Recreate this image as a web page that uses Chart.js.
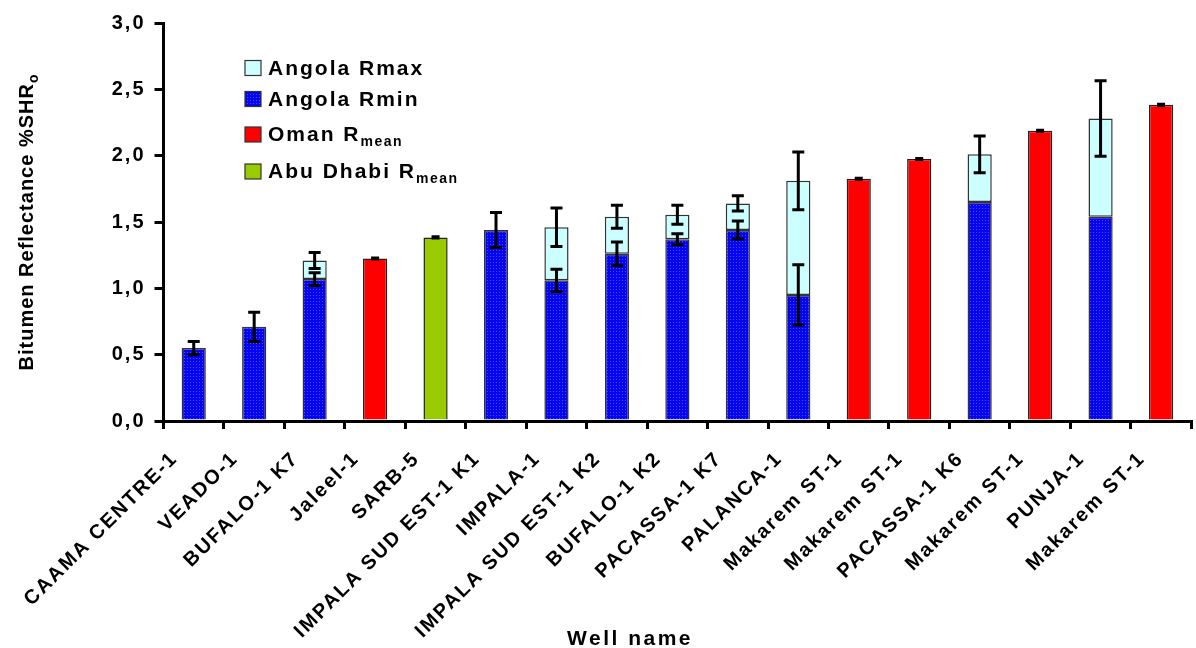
<!DOCTYPE html>
<html>
<head>
<meta charset="utf-8">
<script src="https://cdn.jsdelivr.net/npm/chart.js@4"></script>
<style>
  html, body { margin: 0; padding: 0; background: #fff; }
  #wrap { width: 1196px; height: 648px; position: relative; }
</style>
</head>
<body>
<div id="wrap"><canvas id="reflChart"></canvas></div>
<script>
const wells = ["CAAMA CENTRE-1", "VEADO-1", "BUFALO-1 K7", "Jaleel-1", "SARB-5",
  "IMPALA SUD EST-1 K1", "IMPALA-1", "IMPALA SUD EST-1 K2", "BUFALO-1 K2",
  "PACASSA-1 K7", "PALANCA-1", "Makarem ST-1", "Makarem ST-1", "PACASSA-1 K6",
  "Makarem ST-1", "PUNJA-1", "Makarem ST-1"];

const angolaRmin = [0.55, 0.71, 1.07, null, null, 1.44, 1.06, 1.26, 1.37, 1.44, 0.95, null, null, 1.65, null, 1.54, null];
const angolaRmax = [null, null, 1.21, null, null, null, 1.46, 1.54, 1.555, 1.64, 1.81, null, null, 2.01, null, 2.28, null];
const rminErr = [0.05, 0.11, 0.048, null, null, 0.132, 0.083, 0.09, 0.042, 0.068, 0.227, null, null, null, null, null, null];
const rmaxErr = [null, null, 0.06, null, null, null, 0.145, 0.087, 0.072, 0.058, 0.218, null, null, 0.139, null, 0.284, null];
const omanRmean = [null, null, null, 1.225, null, null, null, null, null, null, null, 1.826, 1.975, null, 2.188, null, 2.383];
const omanErr = [null, null, null, 0.004, null, null, null, null, null, null, null, 0.004, 0.004, null, 0.004, null, 0.004];
const abuDhabiRmean = [null, null, null, null, 1.384, null, null, null, null, null, null, null, null, null, null, null, null];
const abuDhabiErr = [null, null, null, null, 0.004, null, null, null, null, null, null, null, null, null, null, null, null];

const yTicks = [0, 0.5, 1.0, 1.5, 2.0, 2.5, 3.0];

const FONT = "Arial, 'Liberation Sans', sans-serif";

// dotted blue fill like the original
function bluePattern() {
  const c = document.createElement("canvas");
  c.width = 3; c.height = 3;
  const g = c.getContext("2d");
  g.fillStyle = "#0505ee";
  g.fillRect(0, 0, 3, 3);
  g.fillStyle = "#4a4aff";
  g.fillRect(1, 1, 1, 1);
  return g.createPattern(c, "repeat");
}
const blueFill = bluePattern();

const rmaxRanges = angolaRmax.map((v, i) => v == null ? null : [angolaRmin[i], v]);

const spacing = {
  id: "spacing",
  beforeUpdate(chart) { chart.ctx.letterSpacing = "2px"; },
  beforeDraw(chart) { chart.ctx.letterSpacing = "2px"; }
};

const errorBars = {
  id: "errorBars",
  afterDatasetsDraw(chart) {
    const ctx = chart.ctx;
    const y = chart.scales.y;
    ctx.save();
    ctx.strokeStyle = "#000";
    ctx.lineWidth = 3;
    ctx.lineCap = "butt";
    chart.data.datasets.forEach((ds, d) => {
      if (!ds.errors) return;
      const meta = chart.getDatasetMeta(d);
      ds.data.forEach((v, i) => {
        const e = ds.errors[i];
        if (v == null || e == null) return;
        const top = Array.isArray(v) ? v[1] : v;
        const x = meta.data[i].x;
        const y1 = y.getPixelForValue(top + e);
        const y2 = y.getPixelForValue(top - e);
        const half = e < 0.01 ? 4 : 6;
        ctx.beginPath();
        ctx.moveTo(x, y1); ctx.lineTo(x, y2);
        ctx.moveTo(x - half, y1); ctx.lineTo(x + half, y1);
        ctx.moveTo(x - half, y2); ctx.lineTo(x + half, y2);
        ctx.stroke();
      });
    });
    ctx.restore();
  }
};

const annotations = {
  id: "annotations",
  afterDraw(chart) {
    const ctx = chart.ctx;
    ctx.save();
    ctx.fillStyle = "#000";

    // legend
    const rows = [68, 99, 134.5, 171.5];
    chart.data.datasets.forEach((ds, i) => {
      const cy = rows[i];
      ctx.fillStyle = ds.backgroundColor;
      ctx.fillRect(245, cy - 7.5, 16, 15);
      ctx.strokeStyle = "#333";
      ctx.lineWidth = 1.2;
      ctx.strokeRect(245, cy - 7.5, 16, 15);
      ctx.fillStyle = "#000";
      ctx.letterSpacing = "2px";
      ctx.font = "bold 21px " + FONT;
      ctx.textBaseline = "middle";
      ctx.textAlign = "left";
      ctx.fillText(ds.mainText, 268, cy + 1);
      if (ds.subText) {
        const w = ctx.measureText(ds.mainText).width;
        ctx.font = "bold 14px " + FONT;
        ctx.letterSpacing = "1.5px";
        ctx.fillText(ds.subText, 268 + w, cy + 8);
      }
    });

    // y axis title with subscript
    const ca = chart.chartArea;
    ctx.translate(27, (ca.top + ca.bottom) / 2);
    ctx.rotate(-Math.PI / 2);
    ctx.font = "bold 20px " + FONT;
    ctx.letterSpacing = "1px";
    const main = "Bitumen Reflectance %SHR";
    const wMain = ctx.measureText(main).width;
    ctx.font = "bold 14px " + FONT;
    const wSub = ctx.measureText("o").width;
    const x0 = -(wMain + wSub) / 2;
    ctx.textBaseline = "middle";
    ctx.textAlign = "left";
    ctx.font = "bold 20px " + FONT;
    ctx.fillText(main, x0, 0);
    ctx.font = "bold 14px " + FONT;
    ctx.fillText("o", x0 + wMain, 7);
    ctx.setTransform(1, 0, 0, 1, 0, 0);

    // x axis title
    ctx.font = "bold 21px " + FONT;
    ctx.letterSpacing = "2.5px";
    ctx.textAlign = "center";
    ctx.textBaseline = "alphabetic";
    ctx.fillText("Well name", 630, 645);
    ctx.restore();
  }
};

const ctx = document.getElementById("reflChart").getContext("2d");
const reflChart = new Chart(ctx, {
  type: "bar",
  data: {
    labels: wells,
    datasets: [
      {
        label: "Angola Rmax",
        mainText: "Angola Rmax",
        data: rmaxRanges,
        errors: rmaxErr,
        backgroundColor: "#ccffff",
        borderColor: "#333",
        borderWidth: 1.5,
        borderSkipped: false
      },
      {
        label: "Angola Rmin",
        mainText: "Angola Rmin",
        data: angolaRmin,
        errors: rminErr,
        backgroundColor: blueFill,
        borderColor: "#333",
        borderWidth: 1.5
      },
      {
        label: "Oman Rmean",
        mainText: "Oman R",
        subText: "mean",
        data: omanRmean,
        errors: omanErr,
        backgroundColor: "#ff0000",
        borderColor: "#222",
        borderWidth: 1.5
      },
      {
        label: "Abu Dhabi Rmean",
        mainText: "Abu Dhabi R",
        subText: "mean",
        data: abuDhabiRmean,
        errors: abuDhabiErr,
        backgroundColor: "#99cc00",
        borderColor: "#222",
        borderWidth: 1.5
      }
    ]
  },
  options: {
    responsive: true,
    maintainAspectRatio: false,
    animation: false,
    datasets: { bar: { grouped: false, barPercentage: 0.4, categoryPercentage: 1.0 } },
    layout: { padding: { top: 23, right: 0, left: 0, bottom: 0 } },
    plugins: {
      legend: { display: false },
      tooltip: { enabled: false }
    },
    scales: {
      x: {
        grid: { display: true, offset: true, drawOnChartArea: false, drawTicks: true, tickLength: 8, lineWidth: 3, color: "#000" },
        border: { display: true, color: "#000", width: 3 },
        ticks: {
          autoSkip: false,
          minRotation: 45,
          maxRotation: 45,
          color: "#000",
          padding: 18,
          labelOffset: -19,
          font: { family: FONT, size: 20, weight: "bold" }
        },
        afterFit(scale) { scale.height = 227; }
      },
      y: {
        min: 0,
        max: 3,
        afterBuildTicks(scale) { scale.ticks = yTicks.map(v => ({ value: v })); },
        grid: { display: true, drawOnChartArea: false, drawTicks: true, tickLength: 9, lineWidth: 3, color: "#000" },
        border: { display: true, color: "#000", width: 3 },
        ticks: {
          color: "#000",
          padding: 9,
          font: { family: FONT, size: 20, weight: "bold" },
          callback: v => v.toFixed(1).replace(".", ",")
        },
        afterFit(scale) { scale.width = 163.5; }
      }
    }
  },
  plugins: [spacing, errorBars, annotations]
});
</script>
</body>
</html>
